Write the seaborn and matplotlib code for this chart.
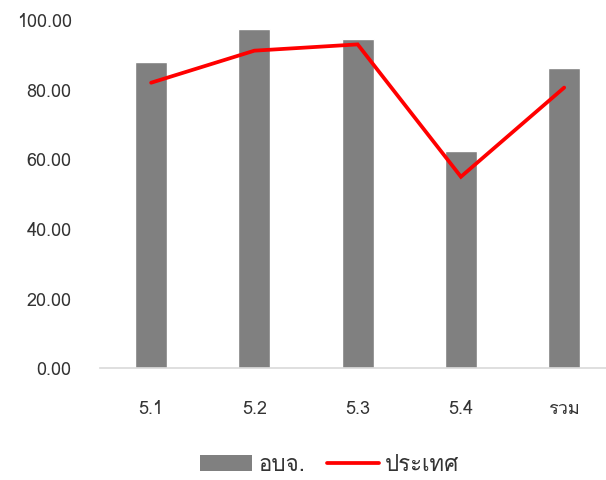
import numpy as np
import matplotlib
matplotlib.use("Agg")
import matplotlib.pyplot as plt
import seaborn as sns
from matplotlib import font_manager as fm
from matplotlib.ft2font import FT2Font
from matplotlib.patches import Patch
from matplotlib.lines import Line2D

# Data
categories = ["5.1", "5.2", "5.3", "5.4", "รวม"]
pao_scores = [88.0, 97.3, 94.5, 62.4, 86.2]       # อบจ. (bars)
country_scores = [82.0, 91.2, 93.0, 55.0, 80.6]   # ประเทศ (line)
yticks = [0, 20, 40, 60, 80, 100]

sns.set_style("white")

# find an installed font that has Thai glyphs
thai_font = None
for f in fm.fontManager.ttflist:
    try:
        if 0x0E1B in FT2Font(f.fname).get_charmap():
            thai_font = f.name
            break
    except Exception:
        pass
families = ["DejaVu Sans"]
if thai_font:
    families = [thai_font, "DejaVu Sans"]
plt.rcParams["font.family"] = families

fig = plt.figure(figsize=(6.06, 4.8), dpi=100)
ax = fig.add_axes([0.1642, 0.2327, 0.852, 0.7256])

sns.barplot(x=categories, y=pao_scores, color="#808080", width=0.31,
            saturation=1, ax=ax)
ax.plot(np.arange(len(categories)), country_scores, color="#ff0000",
        linewidth=2.7, solid_capstyle="round", solid_joinstyle="miter")

ax.set_ylim(0, 100)
ax.set_xlim(-0.5, len(categories) - 0.5)
ax.set_yticks(yticks)
ax.set_yticklabels([f"{v:.2f}" for v in yticks])
ax.tick_params(axis="y", length=0, pad=20, labelsize=13, labelcolor="#333333")
ax.tick_params(axis="x", length=0, pad=23, labelsize=13, labelcolor="#333333")
ax.set_xlabel("")
ax.set_ylabel("")

for side in ["top", "right", "left"]:
    ax.spines[side].set_visible(False)
ax.spines["bottom"].set_color("#d9d9d9")
ax.spines["bottom"].set_linewidth(1.2)

handles = [Patch(facecolor="#808080", edgecolor="none"),
           Line2D([0], [0], color="#ff0000", linewidth=2.7)]
fig.legend(handles, ["อบจ.", "ประเทศ"], loc="center", ncol=2,
           bbox_to_anchor=(0.544, 0.031), frameon=False, fontsize=16,
           handlelength=2.35, handleheight=0.7, handletextpad=0.25,
           columnspacing=1.0, labelcolor="#333333")

fig.savefig("out.png", dpi=100)
